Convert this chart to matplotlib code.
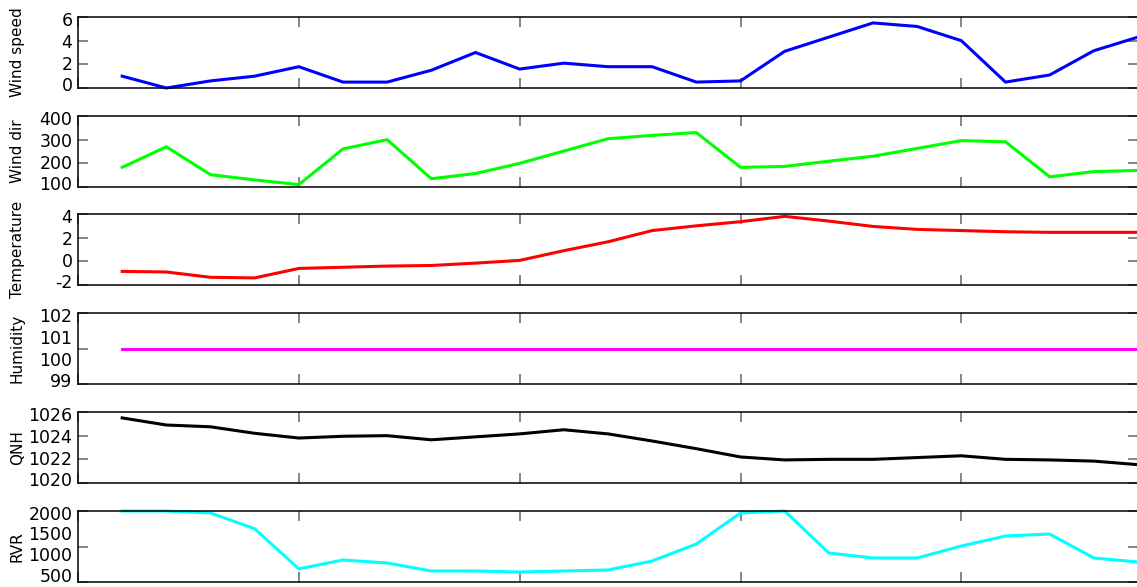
import numpy as np
import matplotlib
matplotlib.use('Agg')
import matplotlib.pyplot as plt

# hourly-ish samples, index only (time axis labels are cut off in the original)
steps = list(range(24))

wind_speed = [1.0, 0.0, 0.6, 1.0, 1.8, 0.5, 0.5, 1.5, 3.0, 1.6, 2.1, 1.8,
              1.8, 0.5, 0.6, 3.1, 4.3, 5.5, 5.2, 4.0, 0.5, 1.1, 3.15, 4.3]
wind_dir = [183, 270, 152, 130, 110, 261, 300, 135, 157, 200, 252, 304,
            318, 330, 183, 187, 209, 230, 263, 296, 291, 143, 165, 170]
temperature = [-0.85, -0.9, -1.35, -1.4, -0.6, -0.5, -0.4, -0.35, -0.15, 0.08, 0.9, 1.65,
               2.6, 3.0, 3.35, 3.8, 3.4, 2.95, 2.7, 2.6, 2.5, 2.45, 2.45, 2.45]
humidity = [100] * 24
qnh = [1025.5, 1024.9, 1024.75, 1024.2, 1023.8, 1023.95, 1024.0, 1023.65, 1023.9, 1024.15, 1024.5, 1024.15,
       1023.55, 1022.9, 1022.2, 1021.95, 1022.0, 1022.0, 1022.15, 1022.3, 1022.0, 1021.95, 1021.85, 1021.55]
rvr = [2000, 2000, 1945, 1500, 370, 620, 535, 310, 310, 282, 310, 338,
       592, 1070, 1945, 2000, 817, 676, 676, 1014, 1296, 1352, 676, 563]

panels = [
    ('Wind speed', wind_speed, 'blue', (0, 6), [0, 2, 4, 6], ['0', '2', '4', '6']),
    ('Wind dir', wind_dir, 'lime', (100, 400), [100, 200, 300, 400], ['100', '200', '300', '400']),
    ('Temperature', temperature, 'red', (-2, 4), [-2, 0, 2, 4], ['-2', '0', '2', '4']),
    ('Humidity', humidity, 'magenta', (99, 101), [99, 100, 101], ['99', '100', '101', '102']),
    ('QNH', qnh, 'black', (1020, 1026), [1020, 1022, 1024, 1026], ['1020', '1022', '1024', '1026']),
    ('RVR', rvr, 'cyan', (0, 2000), [0, 1000, 2000], ['500', '1000', '1500', '2000']),
]

W, H = 1137, 587
fig = plt.figure(figsize=(W / 100, H / 100), dpi=100)

tops = [17, 116, 214, 313, 412, 511]
ax_h = 71
left, right = 78, 1138

for (name, vals, color, ylim, marks, labels), top in zip(panels, tops):
    ax = fig.add_axes([left / W, 1 - (top + ax_h) / H, (right - left) / W, ax_h / H])
    ax.plot(steps, vals, color=color, lw=2.2, clip_on=False, solid_joinstyle='miter')
    ax.set_xlim(-1, 23)
    ax.set_ylim(*ylim)
    ax.set_xticks([-1, 4, 9, 14, 19])
    ax.set_yticks(marks)
    ax.tick_params(which='major', direction='in', length=7, width=1.1, color='#666666',
                   top=True, right=True, labelbottom=False, labelleft=False)
    # labels spread evenly over the axis height, like the original (a bit inset from the edges)
    span = ylim[1] - ylim[0]
    low_inset = 0.1 if top == tops[-1] else 0.05  # keep the last label inside the figure
    ax.yaxis.remove_overlapping_locs = False
    ax.set_yticks(np.linspace(ylim[0] + low_inset * span, ylim[1] - 0.025 * span, len(labels)),
                  labels, minor=True)
    ax.tick_params(which='minor', length=0, pad=4, labelsize=12.5)
    ax.xaxis.set_minor_locator(matplotlib.ticker.NullLocator())
    for sp in ax.spines.values():
        sp.set_linewidth(1.1)
    ax.set_ylabel(name, fontsize=11)
    ax.yaxis.set_label_coords(-0.05, 0.5)

fig.savefig('out.png', dpi=100)
